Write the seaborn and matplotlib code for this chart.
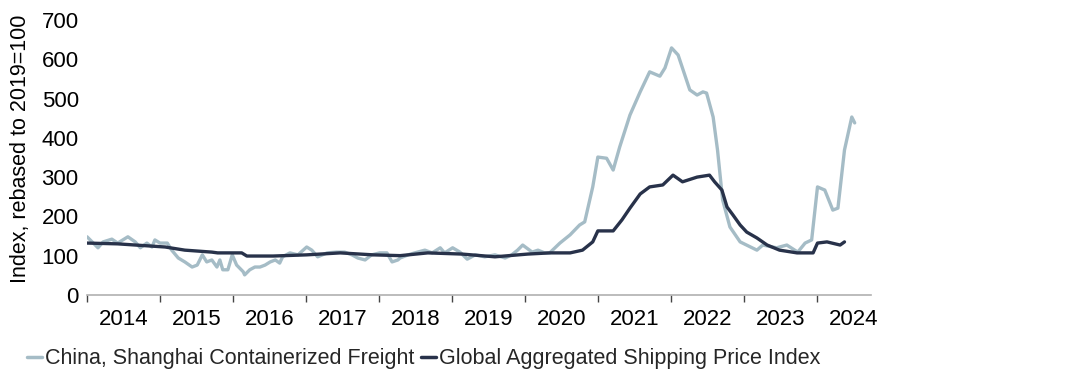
import matplotlib
matplotlib.use('Agg')
import matplotlib.pyplot as plt
import seaborn as sns
import pandas as pd
from matplotlib.ticker import FixedLocator, NullFormatter

# China, Shanghai Containerized Freight (decimal year, index)
scfi_year = [
    2014.00, 2014.07, 2014.15, 2014.22, 2014.34, 2014.42, 2014.56, 2014.66, 2014.73, 2014.82,
    2014.89, 2014.93, 2015.00, 2015.10, 2015.16, 2015.25, 2015.34, 2015.44, 2015.51, 2015.58,
    2015.64, 2015.71, 2015.78, 2015.82, 2015.86, 2015.93, 2015.99, 2016.05, 2016.14, 2016.16,
    2016.23, 2016.30, 2016.37, 2016.44, 2016.51, 2016.58, 2016.64, 2016.68, 2016.78, 2016.89,
    2017.01, 2017.08, 2017.16, 2017.29, 2017.42, 2017.53, 2017.63, 2017.71, 2017.81, 2017.90,
    2018.01, 2018.11, 2018.18, 2018.26, 2018.29, 2018.40, 2018.49, 2018.63, 2018.73, 2018.84,
    2018.90, 2019.01, 2019.11, 2019.21, 2019.32, 2019.45, 2019.59, 2019.73, 2019.82, 2019.90,
    2019.97, 2020.10, 2020.18, 2020.27, 2020.34, 2020.48, 2020.62, 2020.75, 2020.82, 2020.93,
    2021.00, 2021.12, 2021.21, 2021.30, 2021.44, 2021.58, 2021.71, 2021.85, 2021.92, 2022.01,
    2022.10, 2022.26, 2022.36, 2022.44, 2022.49, 2022.58, 2022.64, 2022.71, 2022.81, 2022.95,
    2023.18, 2023.26, 2023.45, 2023.59, 2023.74, 2023.84, 2023.93, 2024.01, 2024.11, 2024.22,
    2024.29, 2024.38, 2024.48, 2024.52,
]
scfi_value = [
    148, 135, 120, 135, 142, 132, 148, 135, 120, 132,
    122, 140, 132, 132, 114, 94, 84, 71, 76, 102,
    84, 89, 71, 89, 64, 64, 102, 76, 59, 51,
    64, 71, 71, 76, 84, 89, 81, 97, 107, 102,
    122, 114, 97, 107, 109, 109, 102, 94, 89, 102,
    107, 107, 84, 89, 94, 102, 107, 114, 107, 120,
    107, 120, 109, 91, 102, 97, 102, 94, 102, 114,
    127, 109, 114, 107, 107, 132, 153, 178, 186, 275,
    351, 348, 318, 377, 458, 517, 568, 557, 578, 629,
    611, 522, 509, 517, 514, 453, 369, 242, 173, 135,
    114, 127, 120, 127, 109, 132, 140, 275, 267, 216,
    221, 369, 453, 438,
]

# Global Aggregated Shipping Price Index
gaspi_year = [
    2014.00, 2014.42, 2015.07, 2015.34, 2015.71, 2015.79, 2016.12, 2016.19, 2016.55, 2017.01,
    2017.47, 2017.92, 2018.29, 2018.67, 2019.14, 2019.59, 2020.04, 2020.34, 2020.62, 2020.79,
    2020.93, 2021.00, 2021.21, 2021.33, 2021.44, 2021.58, 2021.71, 2021.89, 2022.03, 2022.16,
    2022.36, 2022.53, 2022.60, 2022.70, 2022.77, 2022.85, 2022.95, 2023.04, 2023.18, 2023.32,
    2023.49, 2023.73, 2023.95, 2024.01, 2024.14, 2024.32, 2024.38,
]
gaspi_value = [
    132, 130, 122, 114, 109, 107, 107, 99, 99, 102,
    107, 102, 100, 107, 104, 97, 104, 107, 107, 114,
    135, 163, 163, 191, 221, 257, 275, 280, 305, 288,
    300, 305, 288, 267, 224, 204, 178, 160, 145, 127,
    114, 107, 107, 132, 135, 127, 135,
]

year_ticks = list(range(2014, 2025))
year_labels = [str(y) for y in year_ticks]
y_ticks = [0, 100, 200, 300, 400, 500, 600, 700]

SCFI_NAME = 'China, Shanghai Containerized Freight'
GASPI_NAME = 'Global Aggregated Shipping Price Index'

df = pd.concat([
    pd.DataFrame({'year': scfi_year, 'value': scfi_value, 'series': SCFI_NAME}),
    pd.DataFrame({'year': gaspi_year, 'value': gaspi_value, 'series': GASPI_NAME}),
], ignore_index=True)

sns.set_theme(style='white')
plt.rcParams['font.family'] = ['Liberation Sans', 'DejaVu Sans']

fig = plt.figure(figsize=(10.88, 3.85), dpi=100)
ax = fig.add_axes([0.080, 0.234, 0.721, 0.714])

palette = {SCFI_NAME: '#a5bcc6', GASPI_NAME: '#28324a'}
sns.lineplot(data=df, x='year', y='value', hue='series', palette=palette,
             estimator=None, sort=False, linewidth=2.4, ax=ax, legend=False)

ax.set_xlim(2014, 2024.75)
ax.set_ylim(0, 700)
ax.set_yticks(y_ticks)
ax.tick_params(axis='y', length=0, labelsize=16, pad=6, colors='black')

# year boundary ticks, labels placed mid-year
ax.xaxis.set_major_locator(FixedLocator(year_ticks))
ax.xaxis.set_major_formatter(NullFormatter())
ax.xaxis.set_minor_locator(FixedLocator([y + 0.5 for y in year_ticks]))
ax.set_xticklabels(year_labels, minor=True)
ax.tick_params(axis='x', which='major', direction='out', length=5, width=1, color='#444444', bottom=True)
ax.tick_params(axis='x', which='minor', length=0, labelsize=16, pad=10, colors='black')

for side in ['left', 'top', 'right']:
    ax.spines[side].set_visible(False)
ax.spines['bottom'].set_color('#b0b0b0')
ax.spines['bottom'].set_linewidth(1.2)

ax.set_xlabel('')
ax.set_ylabel('Index, rebased to 2019=100', fontsize=15.5, color='black')
ax.yaxis.set_label_coords(-0.072, 0.53)

handles = [plt.Line2D([], [], color=palette[SCFI_NAME], linewidth=2.5),
           plt.Line2D([], [], color=palette[GASPI_NAME], linewidth=2.5)]
fig.legend(handles, [SCFI_NAME, GASPI_NAME], loc='center left', bbox_to_anchor=(0.007, 0.068),
           ncol=2, frameon=False, fontsize=15.5, handlelength=0.7, handletextpad=0.15,
           columnspacing=0.3)

fig.savefig('out.png', dpi=100)
